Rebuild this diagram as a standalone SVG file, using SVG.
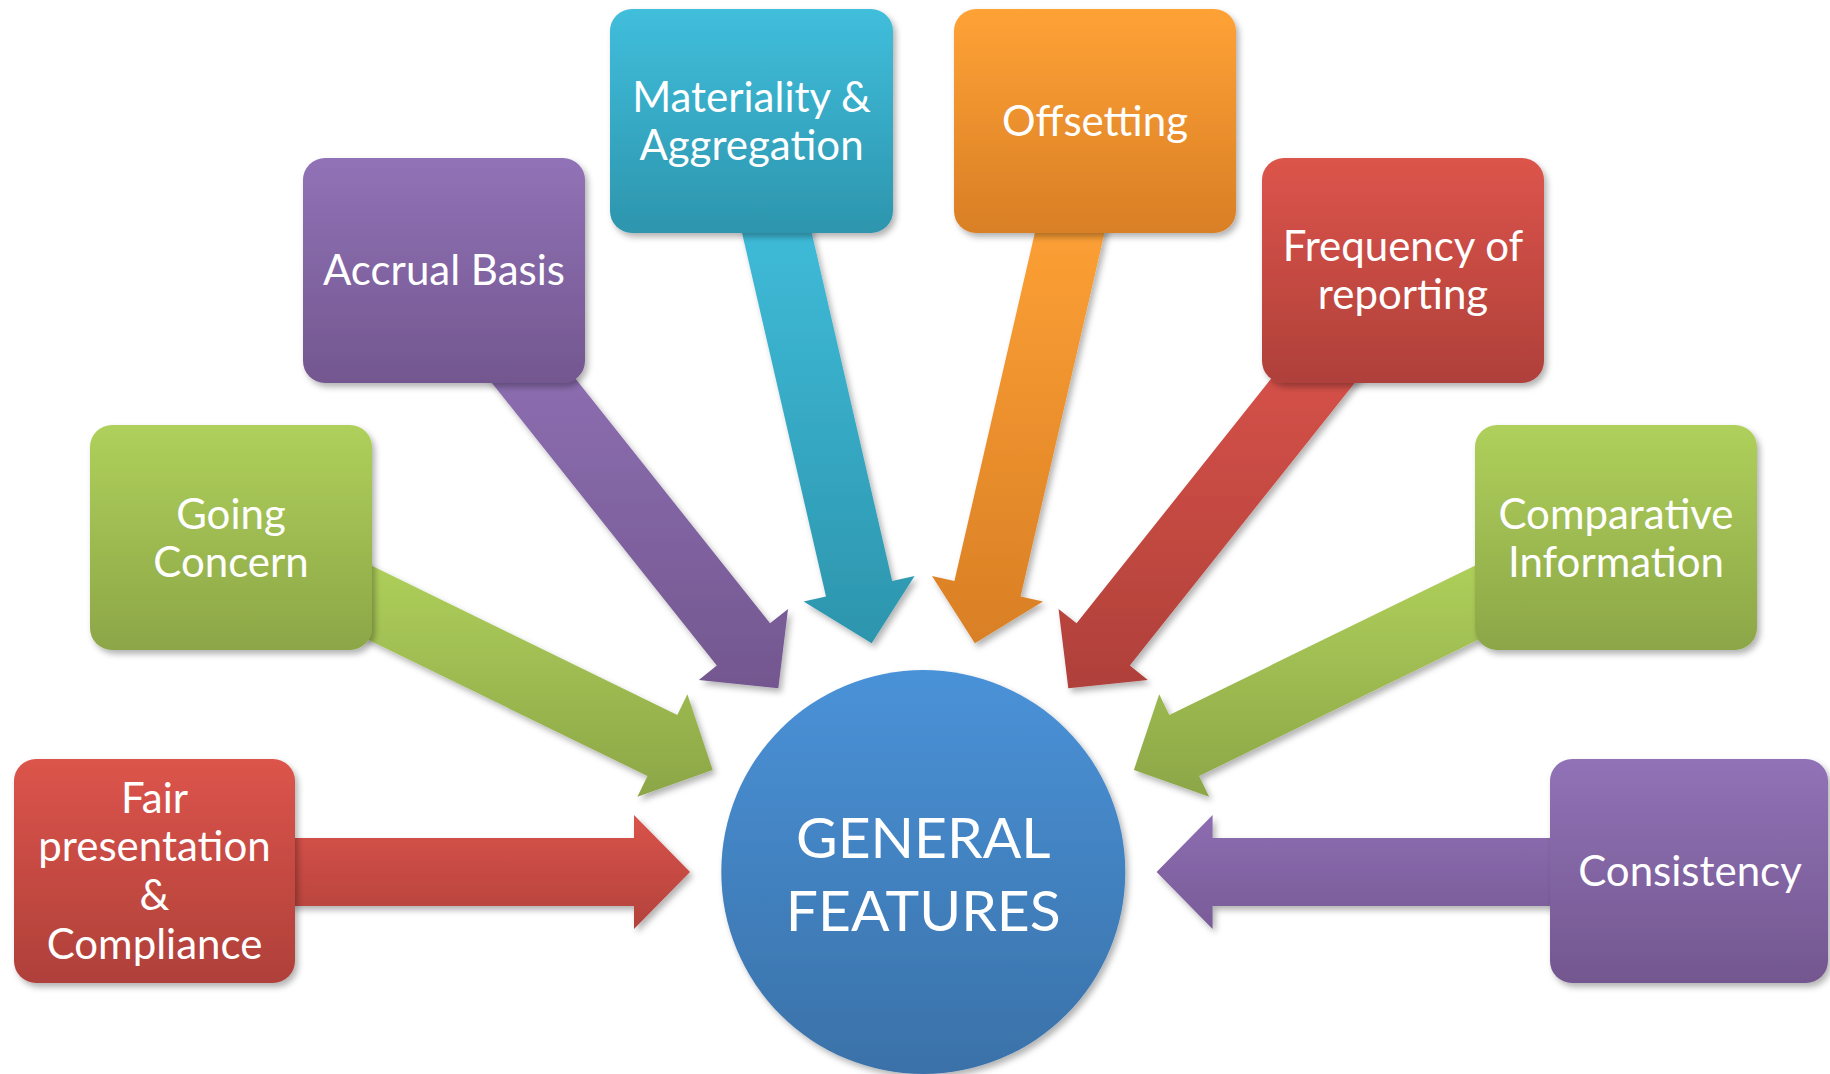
<svg xmlns="http://www.w3.org/2000/svg" width="1830" height="1074" viewBox="0 0 1830 1074">
  <defs>
    <linearGradient id="gRed" x1="0" y1="0" x2="0" y2="1">
      <stop offset="0" stop-color="#DC544B"/>
      <stop offset="1" stop-color="#AF403A"/>
    </linearGradient>
    <linearGradient id="gGreen" x1="0" y1="0" x2="0" y2="1">
      <stop offset="0" stop-color="#AFD05B"/>
      <stop offset="1" stop-color="#8CA647"/>
    </linearGradient>
    <linearGradient id="gPurple" x1="0" y1="0" x2="0" y2="1">
      <stop offset="0" stop-color="#9172B7"/>
      <stop offset="1" stop-color="#73578F"/>
    </linearGradient>
    <linearGradient id="gTeal" x1="0" y1="0" x2="0" y2="1">
      <stop offset="0" stop-color="#40BEDC"/>
      <stop offset="1" stop-color="#2D95AD"/>
    </linearGradient>
    <linearGradient id="gOrange" x1="0" y1="0" x2="0" y2="1">
      <stop offset="0" stop-color="#FFA236"/>
      <stop offset="1" stop-color="#D97F25"/>
    </linearGradient>
    <linearGradient id="gBlue" x1="0" y1="0" x2="0" y2="1">
      <stop offset="0" stop-color="#4A92D8"/>
      <stop offset="1" stop-color="#3A71A8"/>
    </linearGradient>
    <linearGradient id="gRedH" x1="0" y1="0" x2="0" y2="1">
      <stop offset="0" stop-color="#D9534A"/>
      <stop offset="1" stop-color="#B3423C"/>
    </linearGradient>
    <linearGradient id="gPurpleH" x1="0" y1="0" x2="0" y2="1">
      <stop offset="0" stop-color="#8D6DB1"/>
      <stop offset="1" stop-color="#785B97"/>
    </linearGradient>
    <filter id="shadow" x="-10%" y="-10%" width="125%" height="125%">
      <feDropShadow dx="3" dy="4" stdDeviation="3" flood-color="#000" flood-opacity="0.3"/>
    </filter>
  </defs>
  <style>
    .box { filter: url(#shadow); }
    .arrow { filter: url(#shadow); }
    .label { font-family: Lato, "Open Sans", "Liberation Sans", sans-serif; font-size: 42px; fill: #fff; text-anchor: middle; }
    .hub { font-family: Lato, "Open Sans", "Liberation Sans", sans-serif; font-size: 57px; fill: #fff; text-anchor: middle; }
  </style>

  <rect width="1830" height="1074" fill="#fff"/>

  <!-- block arrows feeding the hub -->
  <g id="connectors">
    <polygon class="arrow" fill="url(#gRedH)" points="290,838 634,838 634,815 690,872 634,929 634,906 290,906"/>
    <polygon class="arrow" fill="url(#gGreen)" points="354.9,557.6 677.3,714.9 687.4,694.2 712.7,770 637.4,796.7 647.5,776 325.1,618.8"/>
    <polygon class="arrow" fill="url(#gPurple)" points="519.9,308.8 770.05,623.3 788.05,609 778.3,688.3 698.8,680 716.8,665.6 466.7,351.2"/>
    <polygon class="arrow" fill="url(#gTeal)" points="802.4,192.4 892.2,581.1 914.6,575.9 871.7,643.3 803.6,601.6 826,596.4 736.2,207.6"/>
    <polygon class="arrow" fill="url(#gOrange)" points="1044.2,192.4 954.4,581.1 932,575.9 974.9,643.3 1043,601.6 1020.6,596.4 1110.4,207.6"/>
    <polygon class="arrow" fill="url(#gRed)" points="1326.7,308.8 1076.55,623.3 1058.55,609 1068.3,688.3 1147.8,680 1129.8,665.6 1379.9,351.2"/>
    <polygon class="arrow" fill="url(#gGreen)" points="1491.7,557.6 1169.3,714.9 1159.2,694.2 1133.9,770 1209.2,796.7 1199.1,776 1521.5,618.8"/>
    <polygon class="arrow" fill="url(#gPurpleH)" points="1556,838 1212.6,838 1212.6,815 1156.6,872 1212.6,929 1212.6,906 1556,906"/>
  </g>

  <g id="fair-presentation">
    <rect class="box" x="14" y="759" width="281" height="224" rx="22" fill="url(#gRed)"/>
    <text class="label"><tspan x="154.5" y="813">Fair</tspan><tspan x="154.5" y="861">presentation</tspan><tspan x="154.5" y="910">&amp;</tspan><tspan x="154.5" y="959">Compliance</tspan></text>
  </g>

  <g id="going-concern">
    <rect class="box" x="90" y="425" width="282" height="225" rx="22" fill="url(#gGreen)"/>
    <text class="label"><tspan x="231" y="529">Going</tspan><tspan x="231" y="577">Concern</tspan></text>
  </g>

  <g id="accrual-basis">
    <rect class="box" x="303" y="158" width="282" height="225" rx="22" fill="url(#gPurple)"/>
    <text class="label" x="444" y="285">Accrual Basis</text>
  </g>

  <g id="materiality-aggregation">
    <rect class="box" x="610" y="9" width="283" height="224" rx="22" fill="url(#gTeal)"/>
    <text class="label"><tspan x="751.5" y="112">Materiality &amp;</tspan><tspan x="751.5" y="160">Aggregation</tspan></text>
  </g>

  <g id="offsetting">
    <rect class="box" x="954" y="9" width="282" height="224" rx="22" fill="url(#gOrange)"/>
    <text class="label" x="1095" y="136">Offsetting</text>
  </g>

  <g id="frequency-of-reporting">
    <rect class="box" x="1262" y="158" width="282" height="225" rx="22" fill="url(#gRed)"/>
    <text class="label"><tspan x="1403" y="261">Frequency of</tspan><tspan x="1403" y="309">reporting</tspan></text>
  </g>

  <g id="comparative-information">
    <rect class="box" x="1475" y="425" width="282" height="225" rx="22" fill="url(#gGreen)"/>
    <text class="label"><tspan x="1616" y="529">Comparative</tspan><tspan x="1616" y="577">Information</tspan></text>
  </g>

  <g id="consistency">
    <rect class="box" x="1550" y="759" width="278" height="224" rx="22" fill="url(#gPurple)"/>
    <text class="label" x="1690" y="886">Consistency</text>
  </g>

  <g id="general-features">
    <circle class="box" cx="923.3" cy="872" r="202" fill="url(#gBlue)"/>
    <text class="hub"><tspan x="923.3" y="858">GENERAL</tspan><tspan x="923.3" y="931">FEATURES</tspan></text>
  </g>
</svg>
